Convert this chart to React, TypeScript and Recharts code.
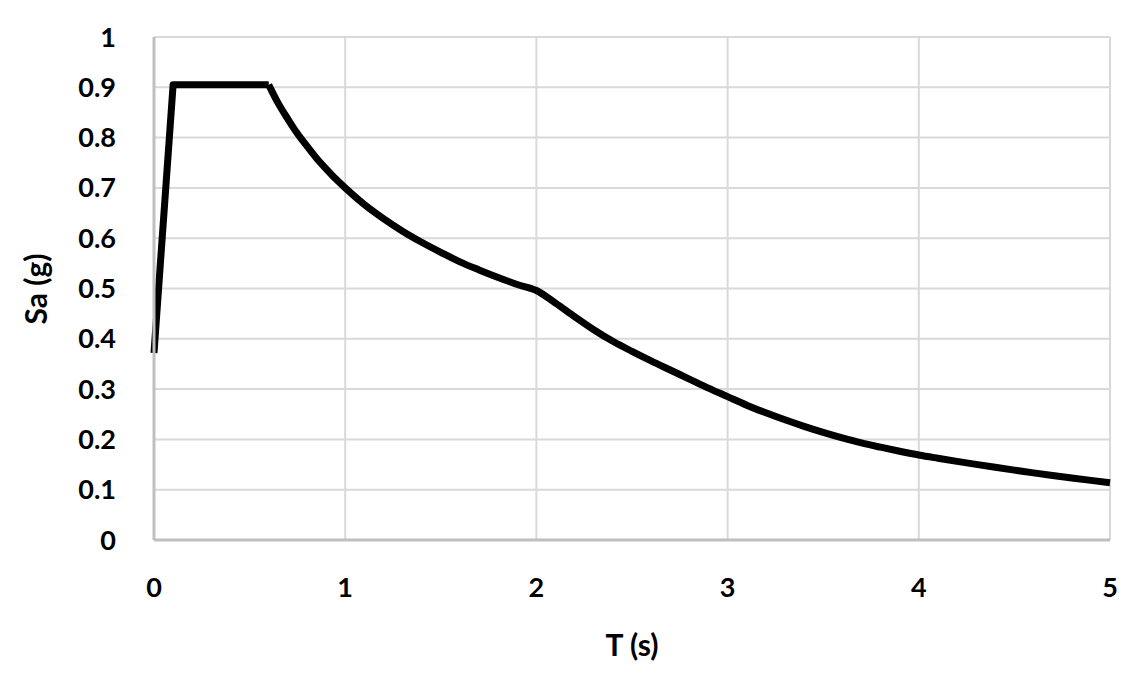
import React from 'react';
import { LineChart, Line, XAxis, YAxis, CartesianGrid } from 'recharts';

// Rising branch and plateau (0 – 0.6 s)
const risePeriods = [0, 0.1, 0.2, 0.3, 0.4, 0.5, 0.6];
const riseSa = [0.372, 0.905, 0.905, 0.905, 0.905, 0.905, 0.905];

// Descending branch (0.6 – 5 s)
const fallPeriods = [
  0.6, 0.65, 0.7, 0.75, 0.8, 0.85, 0.9, 0.95, 1.0,
  1.1, 1.2, 1.3, 1.4, 1.5, 1.6, 1.7, 1.8, 1.9, 2.0,
  2.1, 2.2, 2.3, 2.4, 2.5, 2.6, 2.7, 2.8, 2.9, 3.0,
  3.1, 3.2, 3.3, 3.4, 3.5, 3.6, 3.7, 3.8, 3.9, 4.0,
  4.1, 4.2, 4.3, 4.4, 4.5, 4.6, 4.7, 4.8, 4.9, 5.0,
];
const fallSa = [
  0.905, 0.868, 0.837, 0.808, 0.783, 0.759, 0.738, 0.718, 0.70,
  0.667, 0.639, 0.614, 0.592, 0.572, 0.553, 0.537, 0.522, 0.508, 0.496,
  0.471, 0.444, 0.418, 0.395, 0.375, 0.356, 0.338, 0.320, 0.302, 0.285,
  0.268, 0.253, 0.239, 0.226, 0.214, 0.203, 0.193, 0.1845, 0.1765, 0.169,
  0.1625, 0.1563, 0.1503, 0.1445, 0.1389, 0.1335, 0.1283, 0.1233, 0.1185, 0.1139,
];

const xTicks = [0, 1, 2, 3, 4, 5];
const yTicks = [0, 0.1, 0.2, 0.3, 0.4, 0.5, 0.6, 0.7, 0.8, 0.9, 1];
const yTickLabels = ['0', '0.1', '0.2', '0.3', '0.4', '0.5', '0.6', '0.7', '0.8', '0.9', '1'];

const xTitle = 'T (s)';
const yTitle = 'Sa (g)';

const allPeriods = Array.from(new Set([...risePeriods, ...fallPeriods])).sort((a, b) => a - b);
const data = allPeriods.map((t) => {
  const ri = risePeriods.indexOf(t);
  const fi = fallPeriods.indexOf(t);
  return {
    t,
    rise: ri >= 0 ? riseSa[ri] : null,
    fall: fi >= 0 ? fallSa[fi] : null,
  };
});

const FONT = 'Lato, "Open Sans", sans-serif';

const YTitle = () => (
  <text
    x={35}
    y={289}
    transform="rotate(-90 35 289)"
    textAnchor="middle"
    dominantBaseline="central"
    fontFamily={FONT}
    fontWeight={700}
    fontSize={30}
    fill="#000"
  >
    {yTitle}
  </text>
);

export default function App() {
  return (
    <div style={{ position: 'absolute', left: 0, top: 0, background: '#fff' }}>
      <LineChart
        width={1142}
        height={687}
        data={data}
        margin={{ top: 37, right: 32, bottom: 0, left: 0 }}
      >
        <CartesianGrid stroke="#d9d9d9" strokeWidth={2} horizontal vertical />
        <XAxis
          dataKey="t"
          type="number"
          domain={[0, 5]}
          ticks={xTicks}
          height={147}
          axisLine={{ stroke: '#bfbfbf', strokeWidth: 3 }}
          tickLine={false}
          tickSize={6}
          tickMargin={32}
          tick={{ fill: '#000', fontFamily: FONT, fontWeight: 700, fontSize: 27 }}
          label={{
            value: xTitle,
            position: 'insideBottom',
            offset: 31,
            fill: '#000',
            fontFamily: FONT,
            fontWeight: 700,
            fontSize: 30,
          }}
        />
        <YAxis
          type="number"
          domain={[0, 1]}
          ticks={yTicks}
          width={154}
          interval={0}
          axisLine={{ stroke: '#bfbfbf', strokeWidth: 3 }}
          tickLine={false}
          tickSize={6}
          tickMargin={32}
          tickFormatter={(v: number) => yTickLabels[yTicks.indexOf(v)] ?? String(v)}
          tick={{ fill: '#000', fontFamily: FONT, fontWeight: 700, fontSize: 27 }}
          label={{ content: () => <YTitle /> }}
        />
        <Line
          type="linear"
          dataKey="rise"
          stroke="#000"
          strokeWidth={7}
          dot={false}
          connectNulls={false}
          isAnimationActive={false}
          strokeLinejoin="round"
        />
        <Line
          type="monotone"
          dataKey="fall"
          stroke="#000"
          strokeWidth={7}
          dot={false}
          connectNulls={false}
          isAnimationActive={false}
          strokeLinejoin="round"
        />
      </LineChart>
    </div>
  );
}
